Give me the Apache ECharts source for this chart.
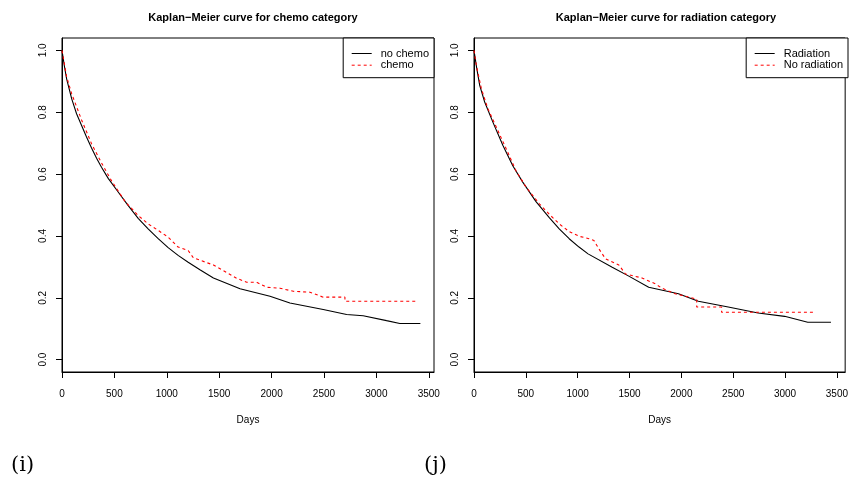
<!DOCTYPE html>
<html lang="en">
<head>
    <meta charset="UTF-8">
    <title>Kaplan-Meier curves</title>
    <script src="https://cdn.jsdelivr.net/npm/echarts@6.0.0/dist/echarts.min.js"></script>
    <style>
        body { margin: 0; background: #fff; }
        #main { width: 851px; height: 481px; }
    </style>
</head>
<body>
<div id="main"></div>
<script>
    // tick labels
    var xTicks = [0, 500, 1000, 1500, 2000, 2500, 3000, 3500];
    var yTicks = [0, 0.2, 0.4, 0.6, 0.8, 1.0];

    // (i) chemo category, [days, survival]
    var noChemo = [[0, 1.0], [20, 0.955], [44, 0.908], [92, 0.844], [139, 0.795], [187, 0.757], [234, 0.720],
        [282, 0.684], [330, 0.651], [377, 0.622], [441, 0.586], [536, 0.542], [632, 0.498], [727, 0.457],
        [822, 0.423], [918, 0.391], [1013, 0.362], [1108, 0.337], [1204, 0.315], [1320, 0.290], [1445, 0.264],
        [1699, 0.229], [1985, 0.205], [2175, 0.183], [2493, 0.162], [2716, 0.146], [2874, 0.142],
        [3097, 0.126], [3224, 0.117], [3420, 0.117]];
    var chemo = [[0, 1.0], [44, 0.915], [92, 0.860], [187, 0.775], [282, 0.698], [377, 0.636], [473, 0.578],
        [600, 0.512], [727, 0.466], [822, 0.439], [918, 0.418], [1013, 0.396], [1108, 0.364], [1204, 0.353],
        [1254, 0.329], [1445, 0.306], [1540, 0.288], [1667, 0.263], [1763, 0.250], [1858, 0.250],
        [1953, 0.234], [2080, 0.231], [2207, 0.221], [2366, 0.218], [2493, 0.202], [2700, 0.202],
        [2700, 0.189], [3398, 0.189]];

    // (j) radiation category
    var radiation = [[0, 1.0], [25, 0.945], [55, 0.887], [103, 0.833], [182, 0.768], [278, 0.693], [374, 0.627],
        [470, 0.574], [598, 0.511], [726, 0.459], [822, 0.423], [918, 0.391], [1013, 0.364], [1100, 0.342],
        [1333, 0.299], [1493, 0.270], [1685, 0.234], [1972, 0.213], [2164, 0.189], [2452, 0.170],
        [2740, 0.151], [2996, 0.140], [3219, 0.121], [3443, 0.121]];
    var noRadiation = [[0, 1.0], [23, 0.951], [71, 0.876], [134, 0.811], [230, 0.741], [310, 0.682],
        [406, 0.610], [502, 0.558], [630, 0.504], [726, 0.470], [822, 0.439], [918, 0.414], [1013, 0.399],
        [1109, 0.391], [1157, 0.385], [1205, 0.358], [1269, 0.326], [1397, 0.306], [1461, 0.277],
        [1621, 0.264], [1749, 0.245], [1812, 0.231], [1940, 0.213], [2148, 0.196], [2148, 0.170],
        [2388, 0.170], [2388, 0.153], [3289, 0.153]];

    var font = 'Liberation Sans, Arial, sans-serif';

    function xAxisFor(idx, max) {
        return {
            gridIndex: idx, type: 'value', min: 0, max: max,
            name: 'Days', nameLocation: 'middle', nameGap: 43,
            nameTextStyle: { fontFamily: font, fontSize: 10, color: '#000' },
            splitLine: { show: false },
            axisLine: { show: true, onZero: false, lineStyle: { color: '#000', width: 1 } },
            axisTick: { show: true, length: 6, customValues: xTicks, lineStyle: { color: '#000' } },
            axisLabel: {
                customValues: xTicks, margin: 17, fontFamily: font, fontSize: 10, color: '#000',
                formatter: function (v) { return String(v); }
            }
        };
    }

    function yAxisFor(idx) {
        return {
            gridIndex: idx, type: 'value', min: -0.04, max: 1.04,
            splitLine: { show: false },
            axisLine: { show: true, onZero: false, lineStyle: { color: '#000', width: 1 } },
            axisTick: { show: true, length: 6, customValues: yTicks, lineStyle: { color: '#000' } },
            axisLabel: {
                customValues: yTicks, rotate: 90, margin: 14, fontFamily: font, fontSize: 10, color: '#000',
                formatter: function (v) { return v.toFixed(1); }
            }
        };
    }

    function legendFor(names, right) {
        return {
            data: names, orient: 'vertical', right: right, top: 38,
            backgroundColor: '#fff', borderColor: '#000', borderWidth: 1, borderRadius: 0,
            padding: [10, 5, 7, 8], itemWidth: 20, itemHeight: 10, itemGap: 0.7,
            itemStyle: { opacity: 0 },
            lineStyle: { width: 1 },
            textStyle: { fontFamily: font, fontSize: 11, color: '#000', padding: [0, 0, 0, 4] }
        };
    }

    function line(name, data, xi, color, dashed) {
        return {
            name: name, type: 'line', data: data, xAxisIndex: xi, yAxisIndex: xi,
            symbol: 'none', animation: false, z: dashed ? 3 : 2,
            lineStyle: { color: color, width: 1.1, type: dashed ? [3, 3] : 'solid' },
            itemStyle: { color: color }
        };
    }

    var chart = echarts.init(document.getElementById('main'), null, { renderer: 'canvas' });
    var option = {
        backgroundColor: '#fff',
        animation: false,
        title: [
            { text: 'Kaplan\u2212Meier curve for chemo category', left: 248, top: 7, textAlign: 'center',
              textStyle: { fontFamily: font, fontSize: 11, fontWeight: 'bold', color: '#000' } },
            { text: 'Kaplan\u2212Meier curve for radiation category', left: 661, top: 7, textAlign: 'center',
              textStyle: { fontFamily: font, fontSize: 11, fontWeight: 'bold', color: '#000' } },
            { text: '(i)', left: 6, top: 450,
              textStyle: { fontFamily: 'DejaVu Serif, serif', fontSize: 21, fontWeight: 'normal', color: '#000' } },
            { text: '(j)', left: 419, top: 450,
              textStyle: { fontFamily: 'DejaVu Serif, serif', fontSize: 21, fontWeight: 'normal', color: '#000' } }
        ],
        legend: [
            legendFor(['no chemo', 'chemo'], 851 - 434),
            legendFor(['Radiation', 'No radiation'], 851 - 848)
        ],
        grid: [
            { left: 62, top: 38, width: 372, height: 334, show: true, borderColor: '#000', borderWidth: 1 },
            { left: 474, top: 38, width: 373, height: 334, show: true, borderColor: '#000', borderWidth: 1 }
        ],
        xAxis: [xAxisFor(0, 3550), xAxisFor(1, 3580)],
        yAxis: [yAxisFor(0), yAxisFor(1)],
        series: [
            line('no chemo', noChemo, 0, '#000', false),
            line('chemo', chemo, 0, '#ff0000', true),
            line('Radiation', radiation, 1, '#000', false),
            line('No radiation', noRadiation, 1, '#ff0000', true)
        ]
    };
    chart.setOption(option);
</script>
</body>
</html>
